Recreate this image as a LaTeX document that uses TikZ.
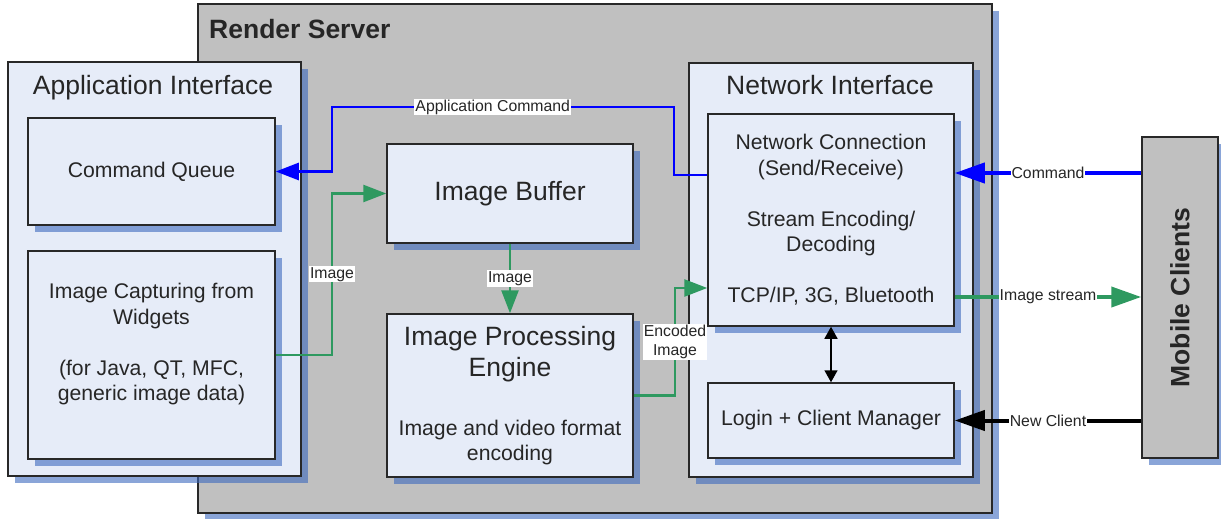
\documentclass[tikz,border=0pt]{standalone}
\usepackage{fontspec}
\setmainfont{Liberation Sans}
\usetikzlibrary{arrows.meta}
\usetikzlibrary{shadows}

\definecolor{boxfill}{RGB}{230,236,248}
\definecolor{servergray}{RGB}{192,192,192}
\definecolor{shadowblue}{RGB}{60,105,190}
\definecolor{cmdblue}{RGB}{0,0,255}
\definecolor{imggreen}{RGB}{46,153,96}
\definecolor{edgegray}{RGB}{40,40,40}

\newcommand{\bigfont}{\fontsize{26.5}{31}\selectfont}
\newcommand{\midfont}{\fontsize{21.2}{25.5}\selectfont}
\newcommand{\lblfont}{\fontsize{15.8}{19}\selectfont}

\tikzset{
    block/.style={draw=edgegray, line width=1.5pt, fill=boxfill, align=center,
        text=black!85, font=\midfont, inner sep=0pt,
        drop shadow={shadow xshift=7pt, shadow yshift=-7pt, fill=shadowblue, opacity=0.6}},
    grayblock/.style={block, fill=servergray},
    title/.style={anchor=base, font=\bigfont, text=black!85, inner sep=0pt},
    flow/.style={line width=2.6pt, -{Triangle[length=23pt,width=17pt]}},
    link/.style={line width=4pt, -{Triangle[length=30pt,width=20pt]}},
    lbl/.style={fill=white, inner sep=1pt, align=center, font=\lblfont, text=black!85},
}

\begin{document}
\begin{tikzpicture}[x=1pt, y=-1pt]

\useasboundingbox (0,0) rectangle (1221,519);

% Containers
\node[grayblock, minimum width=794pt, minimum height=509pt] (render) at (595,258.5) {};
\node[anchor=base west, font=\bfseries\bigfont, inner sep=0pt, text=black!85] (rendertitle) at (209,39) {Render Server};

\node[block, minimum width=293pt, minimum height=414pt] (appif) at (154.5,269) {};
\node[title] (apptitle) at (153,95) {Application Interface};

\node[block, minimum width=284pt, minimum height=414pt] (netif) at (831,270) {};
\node[title] (nettitle) at (830,94) {Network Interface};

% Blocks
\node[block, minimum width=247pt, minimum height=107pt] (cmdq) at (151.5,171.5) {Command Queue};
\node[block, minimum width=247pt, minimum height=208pt] (capture) at (151.5,355)
    {Image Capturing from\\Widgets\\[25.5pt](for Java, QT, MFC,\\generic image data)\\\mbox{}};
\node[block, minimum width=246pt, minimum height=99pt, font=\bigfont] (imgbuf) at (510,193.5) {Image Buffer};
\node[block, minimum width=246pt, minimum height=163pt] (imgproc) at (510,395.5)
    {\bigfont Image Processing\\[5.5pt]\bigfont Engine\\[33.5pt]Image and video format\\encoding};
\node[block, minimum width=246pt, minimum height=212pt] (netconn) at (831,220)
    {Network Connection\\(Send/Receive)\\[25.5pt]Stream Encoding/\\Decoding\\[25.5pt]TCP/IP, 3G, Bluetooth};
\node[block, minimum width=246pt, minimum height=75pt] (login) at (831,420.5) {Login + Client Manager};

\node[grayblock, minimum width=76pt, minimum height=321pt] (mobile) at (1180,297.5) {};
\node[rotate=90, font=\bfseries\bigfont, text=black!85] (mobiletitle) at (mobile.center) {Mobile Clients};

% Inner connectors
\path[draw, cmdblue, flow]
    (netconn.west |- 0,175) -| (674,107)
    -- node[lbl, pos=0.53] (appcmdlbl) {Application Command} (332,107)
    |- (cmdq.east);

\path[draw, imggreen, flow]
    (capture.east) -| node[lbl, pos=0.75] (caplbl) {Image} (332,193.5) -- (imgbuf.west);

\path[draw, imggreen, flow]
    (imgbuf.south) -- node[lbl] (buflbl) {Image} (imgproc.north);

\path[draw, imggreen, flow]
    (imgproc.east) -| node[lbl, pos=0.75] (enclbl) {Encoded\\Image} (675,288) -- (netconn.west |- 0,288);

\path[draw, black, line width=1.5pt, {Triangle[length=12pt,width=13pt]}-{Triangle[length=12pt,width=13pt]}]
    (netconn.south) -- (login.north);

% Client connectors
\path[draw, cmdblue, link]
    (mobile.west |- 0,173) -- node[lbl] (cmdlbl) {Command} (netconn.east |- 0,173);
\path[draw, imggreen, link]
    (netconn.east |- 0,297) -- node[lbl] (streamlbl) {Image stream} (mobile.west |- 0,297);
\path[draw, black, link]
    (mobile.west |- login.east) -- node[lbl] (newlbl) {New Client} (login.east);

\end{tikzpicture}
\end{document}
